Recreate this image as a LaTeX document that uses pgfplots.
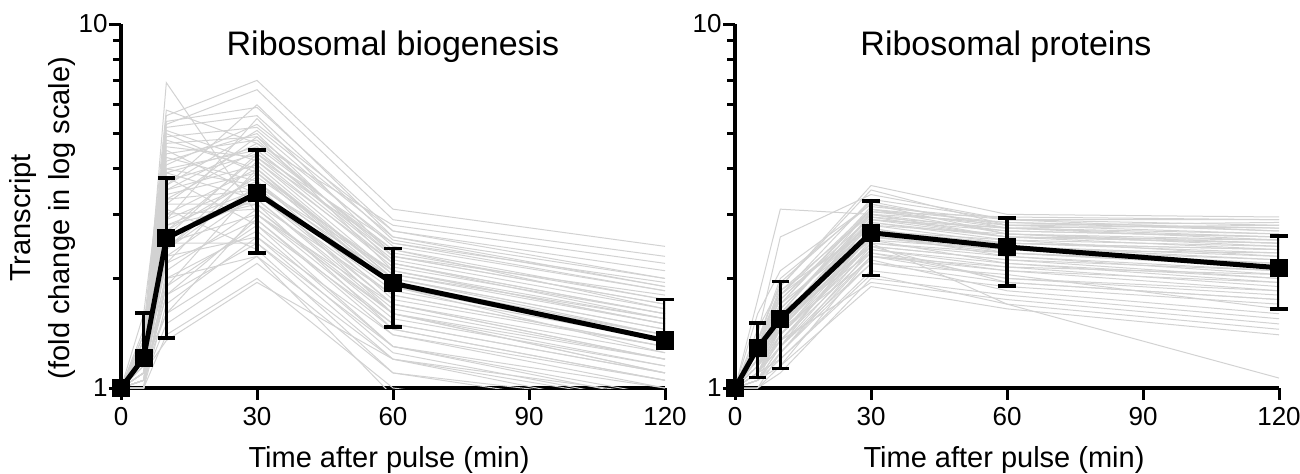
\documentclass[border=0pt]{standalone}
\usepackage{fontspec}
\setmainfont{Liberation Sans}
\usepackage{pgfplots}
\pgfplotsset{compat=1.18}
\definecolor{genegrey}{RGB}{210,210,210}
\pgfplotsset{every tick label/.append style={font=\fontsize{13}{15}\selectfont}}

% one grey trace: values at 5, 10, 30, 60, 120 min (t=0 is 1)
\newcommand{\gl}[5]{\addplot[genegrey, line width=0.5pt, mark=none] coordinates {(0,1)(5,#1)(10,#2)(30,#3)(60,#4)(120,#5)};}
% one SD bar: x, low, high
\newcommand{\sdbar}[3]{\addplot[black, line width=1.8pt, mark=-, mark size=4.3pt] coordinates {(#1,#2)(#1,#3)};}
\newcommand{\sdup}[3]{\addplot[black, line width=1.8pt, mark=-, mark size=4.3pt, mark indices={2}] coordinates {(#1,#2)(#1,#3)};}

\begin{document}
\begin{tikzpicture}

% ---------- left: ribosomal biogenesis ----------
\begin{axis}[ymode=log,
    at={(0,0)}, anchor=south west,
    scale only axis, width=272pt, height=182pt,
    xmin=0, xmax=120, ymin=1, ymax=10,
    axis x line=bottom, axis y line=left,
    axis line style={-, line width=1.6pt},
    xtick={0,30,60,90,120}, xticklabels={0,30,60,90,120},
    ytick={1,10}, yticklabels={1,10},
    minor ytick={2,3,4,5,6,7,8,9},
    tick align=outside,
    major tick length=6pt, minor tick length=4pt,
    tick style={black, line width=1.5pt},
    xticklabel style={font=\fontsize{13}{15}\selectfont},
    yticklabel style={font=\fontsize{13}{15}\selectfont, inner sep=0.5pt}]
\gl{1.25}{6.9}{3.0}{1.6}{1.1}
\gl{1.30}{5.6}{7.0}{3.1}{2.45}
\gl{1.20}{5.3}{6.6}{2.9}{2.3}
\gl{1.35}{5.4}{5.9}{2.7}{2.1}
\gl{1.15}{4.9}{5.2}{2.6}{2.0}
\gl{1.10}{4.7}{4.9}{2.5}{1.85}
\gl{1.40}{4.6}{4.3}{2.4}{1.75}
\gl{1.20}{4.4}{4.8}{2.3}{1.7}
\gl{1.25}{4.2}{5.0}{2.2}{1.6}
\gl{1.05}{4.0}{3.6}{2.1}{1.5}
\gl{1.30}{3.9}{4.6}{2.4}{1.65}
\gl{1.15}{3.7}{4.4}{2.2}{1.55}
\gl{1.20}{3.5}{4.1}{2.0}{1.45}
\gl{1.10}{3.4}{3.9}{1.9}{1.35}
\gl{1.35}{3.3}{4.5}{2.3}{1.8}
\gl{1.05}{3.2}{3.2}{1.8}{1.3}
\gl{1.15}{3.0}{4.0}{2.0}{1.4}
\gl{1.25}{2.9}{3.7}{1.9}{1.25}
\gl{1.00}{2.8}{3.5}{1.7}{1.2}
\gl{1.10}{2.7}{3.8}{2.1}{1.5}
\gl{1.20}{2.6}{3.3}{1.6}{1.15}
\gl{1.05}{2.5}{3.0}{1.5}{1.1}
\gl{1.30}{2.4}{4.2}{2.2}{1.6}
\gl{1.15}{2.3}{3.4}{1.8}{1.3}
\gl{1.10}{2.2}{2.9}{1.4}{1.0}
\gl{1.00}{2.1}{3.1}{1.6}{1.2}
\gl{1.20}{2.0}{2.7}{1.3}{0.95}
\gl{1.05}{1.9}{2.8}{1.5}{1.1}
\gl{1.10}{1.8}{2.5}{1.3}{1.0}
\gl{1.00}{1.7}{2.6}{1.4}{1.05}
\gl{1.15}{1.6}{2.3}{1.2}{0.9}
\gl{1.05}{1.5}{2.2}{1.1}{0.85}
\gl{1.00}{1.4}{2.0}{1.0}{0.8}
\gl{1.10}{1.35}{1.95}{1.2}{0.95}
\gl{1.60}{5.0}{3.9}{1.9}{1.4}
\gl{1.45}{5.8}{4.7}{2.8}{2.2}
\gl{1.25}{3.6}{6.0}{2.6}{1.9}
\gl{1.10}{2.9}{5.5}{2.3}{1.7}
\gl{1.20}{4.5}{3.4}{1.7}{1.2}
\gl{1.05}{3.1}{2.4}{1.1}{0.9}
\gl{1.30}{2.2}{4.0}{1.9}{1.35}
\gl{1.15}{1.9}{3.6}{2.0}{1.45}
\gl{1.00}{2.6}{4.4}{2.5}{1.95}
\gl{1.20}{3.8}{2.8}{1.3}{0.92}
\gl{1.10}{1.6}{3.0}{1.7}{1.25}
\gl{1.25}{4.1}{5.3}{2.7}{2.0}
\gl{1.05}{2.4}{3.6}{1.6}{1.1}
\gl{1.35}{3.2}{4.9}{2.1}{1.55}
\gl{1.00}{2.0}{2.3}{0.95}{0.8}
\gl{1.15}{2.8}{3.2}{1.45}{1.05}
\gl{1.20}{5.1}{4.2}{2.05}{1.5}
\gl{1.10}{3.0}{3.1}{1.55}{1.15}
\gl{1.30}{4.3}{3.7}{1.75}{1.3}
\gl{1.05}{2.3}{2.6}{1.25}{0.9}
\gl{1.15}{3.5}{4.7}{2.35}{1.75}
\gl{1.25}{2.7}{4.3}{2.15}{1.6}
\gl{1.10}{3.3}{3.5}{1.85}{1.35}
\gl{1.40}{5.2}{5.6}{2.55}{1.9}
\gl{1.05}{1.8}{2.9}{1.45}{1.05}
\gl{1.20}{3.9}{3.3}{1.65}{1.2}
\gl{1.00}{2.4}{3.9}{2.05}{1.55}
\gl{1.15}{4.8}{4.0}{1.95}{1.4}
\gl{1.30}{3.6}{5.1}{2.45}{1.85}
\gl{1.10}{2.5}{2.5}{1.2}{0.85}
\gl{1.20}{4.0}{4.5}{2.25}{1.65}
% mean +- SD (lower bar of 5 and 120 min falls below 1)
\sdup{5}{1.21}{1.61}
\sdbar{10}{1.37}{3.78}
\sdbar{30}{2.35}{4.51}
\sdbar{60}{1.47}{2.42}
\sdup{120}{1.35}{1.75}
\addplot[black, line width=2.5pt, mark=square*, mark size=3.3pt] coordinates {
  (0,1) (5,1.21) (10,2.58) (30,3.43) (60,1.94) (120,1.35)
};
\end{axis}

% ---------- right: ribosomal proteins ----------
\begin{axis}[ymode=log,
    at={(307pt,0)}, anchor=south west,
    scale only axis, width=272pt, height=182pt,
    xmin=0, xmax=120, ymin=1, ymax=10,
    axis x line=bottom, axis y line=left,
    axis line style={-, line width=1.6pt},
    xtick={0,30,60,90,120}, xticklabels={0,30,60,90,120},
    ytick={1,10}, yticklabels={1,10},
    minor ytick={2,3,4,5,6,7,8,9},
    tick align=outside,
    major tick length=6pt, minor tick length=4pt,
    tick style={black, line width=1.5pt},
    xticklabel style={font=\fontsize{13}{15}\selectfont},
    yticklabel style={font=\fontsize{13}{15}\selectfont, inner sep=0.5pt}]
\gl{1.75}{3.1}{3.0}{2.6}{2.4}
\gl{1.40}{2.6}{3.4}{2.9}{2.9}
\gl{1.30}{1.9}{3.6}{3.0}{2.95}
\gl{1.20}{1.8}{3.3}{2.9}{2.8}
\gl{1.35}{2.0}{3.2}{2.8}{2.75}
\gl{1.15}{1.7}{3.1}{2.85}{2.7}
\gl{1.25}{1.6}{3.0}{2.7}{2.6}
\gl{1.10}{1.5}{2.9}{2.75}{2.55}
\gl{1.30}{1.75}{2.95}{2.6}{2.5}
\gl{1.20}{1.55}{2.8}{2.65}{2.45}
\gl{1.05}{1.4}{2.7}{2.5}{2.4}
\gl{1.25}{1.65}{2.85}{2.55}{2.3}
\gl{1.15}{1.45}{2.6}{2.45}{2.25}
\gl{1.35}{1.85}{2.75}{2.4}{2.2}
\gl{1.10}{1.35}{2.5}{2.35}{2.15}
\gl{1.20}{1.5}{2.65}{2.3}{2.1}
\gl{1.05}{1.3}{2.45}{2.25}{2.0}
\gl{1.30}{1.6}{2.55}{2.2}{1.95}
\gl{1.15}{1.4}{2.4}{2.15}{1.9}
\gl{1.00}{1.25}{2.3}{2.1}{1.85}
\gl{1.20}{1.55}{2.35}{2.0}{1.8}
\gl{1.10}{1.3}{2.2}{1.95}{1.75}
\gl{1.05}{1.2}{2.1}{1.9}{1.7}
\gl{1.25}{1.45}{2.25}{1.85}{1.6}
\gl{1.00}{1.1}{2.0}{1.8}{1.55}
\gl{1.15}{1.35}{1.95}{1.75}{1.5}
\gl{1.10}{1.2}{2.05}{1.7}{1.45}
\gl{1.05}{1.15}{1.9}{1.65}{1.4}
\gl{1.20}{1.5}{2.5}{1.7}{1.065}
\gl{1.45}{1.9}{3.5}{2.8}{2.85}
\gl{1.30}{1.7}{3.15}{2.9}{2.7}
\gl{1.10}{1.45}{3.05}{2.8}{2.65}
\gl{1.25}{1.65}{2.95}{2.75}{2.6}
\gl{1.15}{1.5}{2.85}{2.6}{2.5}
\gl{1.35}{1.8}{2.8}{2.5}{2.35}
\gl{1.05}{1.3}{2.7}{2.45}{2.3}
\gl{1.20}{1.6}{2.6}{2.4}{2.25}
\gl{1.10}{1.4}{2.5}{2.3}{2.05}
\gl{1.25}{1.55}{2.45}{2.25}{2.1}
\gl{1.15}{1.35}{2.35}{2.1}{1.95}
\gl{1.00}{1.15}{2.3}{2.0}{1.85}
\gl{1.30}{1.75}{3.05}{2.95}{2.9}
\gl{1.60}{2.1}{3.2}{2.65}{2.55}
\gl{1.20}{1.45}{2.75}{2.35}{2.15}
\gl{1.05}{1.25}{2.2}{2.05}{1.65}
\gl{1.15}{1.55}{2.9}{2.7}{2.6}
\gl{1.25}{1.7}{2.7}{2.55}{2.45}
\gl{1.10}{1.35}{2.55}{2.4}{2.35}
\gl{1.30}{1.85}{3.0}{2.85}{2.75}
\gl{1.05}{1.25}{2.4}{2.2}{2.0}
\gl{1.20}{1.6}{3.1}{2.65}{2.5}
\gl{1.15}{1.45}{2.65}{2.5}{2.4}
\gl{1.35}{1.95}{3.25}{2.75}{2.8}
\gl{1.10}{1.3}{2.3}{2.15}{2.05}
\gl{1.25}{1.5}{2.45}{1.95}{1.75}
\gl{1.20}{1.65}{2.9}{2.6}{2.55}
\gl{1.10}{1.4}{2.6}{2.35}{2.2}
\gl{1.30}{1.8}{3.1}{2.75}{2.65}
% mean +- SD
\sdbar{5}{1.07}{1.51}
\sdbar{10}{1.13}{1.96}
\sdbar{30}{2.04}{3.26}
\sdbar{60}{1.91}{2.93}
\sdbar{120}{1.65}{2.62}
\addplot[black, line width=2.5pt, mark=square*, mark size=3.3pt] coordinates {
  (0,1) (5,1.29) (10,1.55) (30,2.67) (60,2.44) (120,2.14)
};
\end{axis}

% titles and labels
\node[font=\fontsize{17}{20}\selectfont, anchor=base] at (136pt,166.5pt) {Ribosomal biogenesis};
\node[font=\fontsize{17}{20}\selectfont, anchor=base] at (442.5pt,166.5pt) {Ribosomal proteins};
\node[font=\fontsize{14.5}{17}\selectfont, anchor=base] at (134pt,-39.5pt) {Time after pulse (min)};
\node[font=\fontsize{14.5}{17}\selectfont, anchor=base] at (441.5pt,-39.5pt) {Time after pulse (min)};
\node[font=\fontsize{14.5}{19.5}\selectfont, rotate=90, align=center] at (-39pt,85pt)
  {Transcript\\(fold change in log scale)};

\pgfresetboundingbox
\useasboundingbox (-60.5pt,-42.5pt) rectangle (589.5pt,194pt);
\end{tikzpicture}
\end{document}
